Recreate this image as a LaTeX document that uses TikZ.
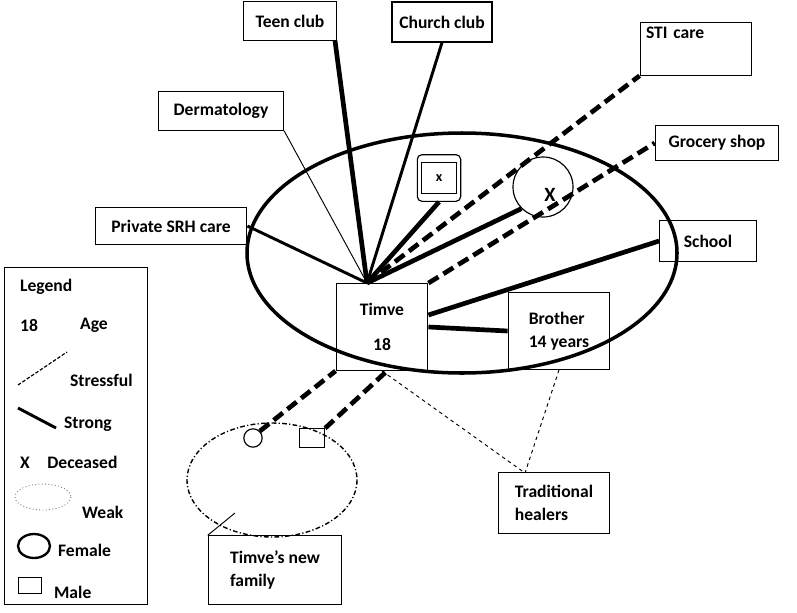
\documentclass[tikz,border=0pt]{standalone}
\usepackage{fontspec}
\setmainfont{Carlito}
\begin{document}
\begin{tikzpicture}[x=0.03cm, y=-0.03cm,
    box/.style={draw, line width=1pt, align=left, font=\bfseries\fontsize{15}{20}\selectfont, inner sep=0pt},
    strong/.style={line width=4pt},
    medium/.style={line width=2.5pt},
    stressful/.style={line width=4pt, dash pattern=on 10pt off 5pt},
    thinline/.style={line width=0.8pt}]
    \useasboundingbox (0,0) rectangle (797,612);
    % ecomap circle
    \draw[line width=3pt] (462,253) ellipse [x radius=215, y radius=120];
    \coordinate (hub) at (367,283);
    % boxes
    \node[box, minimum width=2.8cm, minimum height=1.15cm] (teen) at (290,21) {Teen club};
    \node[box, minimum width=3cm, minimum height=1.2cm] (church) at (442,22) {Church club};
    \node[box, minimum width=3.35cm, minimum height=1.5cm, text depth=0.95cm, text width=3cm, inner ysep=4pt, anchor=north] (sti) at (696,22) {STI care};
    \node[box, minimum width=3.75cm, minimum height=1.15cm] (derm) at (221,111) {Dermatology};
    \node[box, minimum width=3.7cm, minimum height=1.05cm] (grocery) at (717,143) {Grocery shop};
    \node[box, minimum width=2.9cm, minimum height=1.25cm] (school) at (708,241) {School};
    \node[box, minimum width=4.55cm, minimum height=1.1cm] (srh) at (171,226) {Private SRH care};
    \node[box, minimum width=2.75cm, minimum height=2.6cm, align=center] (timve) at (382,327) {Timve\\[10pt]18};
    \node[box, minimum width=3.05cm, minimum height=2.3cm] (brother) at (559,331) {Brother\\14 years};
    \node[box, minimum width=3.35cm, minimum height=1.85cm] (healers) at (554,503) {Traditional\\healers};
    \node[box, minimum width=4cm, minimum height=2.05cm] (newfam) at (275,570) {Timve's new\\family};
    \coordinate (healtop) at (525,473);
    % deceased members
    \node[draw, rounded corners=4pt, line width=1pt, minimum width=1.3cm, minimum height=1.4cm] (grandpa) at (439,178) {};
    \node[draw, line width=1pt, minimum width=1.05cm, minimum height=0.95cm, font=\bfseries\large] at (grandpa) {x};
    \node[draw, circle, line width=1pt, minimum size=1.8cm] (grandma) at (543,187) {};
    \node[font=\rmfamily\bfseries\LARGE] at (550,195) {X};
    % relations
    \draw[strong] (hub) -- (teen.south -| 335,0);
    \draw[medium] (hub) -- (church.south);
    \draw[thinline] (hub) -- (derm.south east);
    \draw[medium] (hub) -- (srh.east);
    \draw[strong] (hub) -- (grandpa.south);
    \draw[strong] (hub) -- (grandma.south west);
    \draw[stressful] (hub) -- (sti.south west);
    \draw[stressful] (timve.north east) -- (grocery.west);
    \draw[strong] (timve.east) ++(0,-12) -- (school.west);
    \draw[strong] (timve.east) -- (brother.west);
    \draw[thinline, dashed] (timve.south) -- (healtop);
    \draw[thinline, dashed] (brother.south) -- (healtop);
    % new family
    \draw[line width=1.2pt, dash pattern=on 4pt off 2pt on 1pt off 2pt] (272,480) ellipse [x radius=85, y radius=57];
    \node[draw, circle, line width=1pt, minimum size=0.55cm, inner sep=0pt] (wife) at (253,438) {};
    \node[draw, line width=1pt, minimum width=0.75cm, minimum height=0.55cm, inner sep=0pt] (son) at (312,438) {};
    \draw[stressful] (wife.north east) -- (timve.south west);
    \draw[stressful] (son.north east) -- (388,370);
    \draw[thinline] (235,513) -- (newfam.north west);
    % legend
    \node[box, minimum width=4.3cm, minimum height=10.1cm] (legend) at (76,436) {};
    \begin{scope}[every node/.style={font=\bfseries\fontsize{15}{18}\selectfont, anchor=west}]
        \node at (16,287) {Legend};
        \node at (16,325) {18};
        \node at (76,325) {Age};
        \draw[line width=1pt, dash pattern=on 3pt off 1.5pt] (18,385) -- (67,352);
        \node at (66,380) {Stressful};
        \draw[line width=2.5pt] (18,408) -- (56,428);
        \node at (60,424) {Strong};
        \node at (16,462) {X\quad Deceased};
        \draw[gray, line width=0.8pt, dotted] (43,497) ellipse [x radius=28, y radius=13];
        \node at (78,512) {Weak};
        \draw[line width=2pt] (34,546) ellipse [x radius=16, y radius=12];
        \node at (54,550) {Female};
        \draw[line width=0.8pt] (18,577) rectangle (41,593);
        \node at (50,592) {Male};
    \end{scope}
\end{tikzpicture}
\end{document}
